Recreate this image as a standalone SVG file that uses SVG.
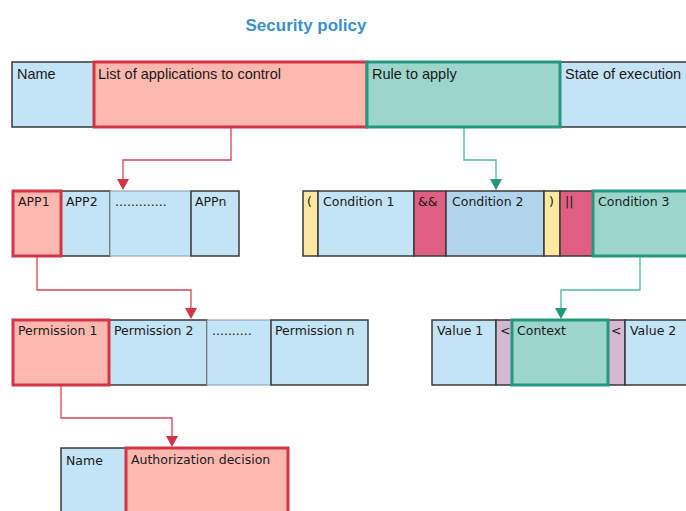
<svg xmlns="http://www.w3.org/2000/svg" width="686" height="511" viewBox="0 0 686 511">
<style>
text{font-family:"DejaVu Sans","Liberation Sans",sans-serif;font-size:12.5px;fill:#1a1a1a}
.t{font-family:"Liberation Sans",Arial,sans-serif;font-size:14.5px}
.title{font-family:"Liberation Sans",Arial,sans-serif;font-size:17px;font-weight:bold;fill:#3a8fcc}
.blue{fill:#c3e3f6;stroke:#3a3a3a;stroke-width:1.5}
.blue2{fill:#b2d5ee;stroke:#3a3a3a;stroke-width:1.5}
.dots{fill:#c3e3f6;stroke:#8a9aa6;stroke-width:1}
.red{fill:#fcb8ae;stroke:#d43447;stroke-width:3}
.teal{fill:#9cd6cb;stroke:#22997c;stroke-width:3}
.pink{fill:#df5f80;stroke:#3a3a3a;stroke-width:1.5}
.yel{fill:#fde8a2;stroke:#3a3a3a;stroke-width:1.5}
.mauve{fill:#d4b9d1;stroke:#3a3a3a;stroke-width:1.5}
.cr{fill:none;stroke:#d84555;stroke-width:1.3}
.ct{fill:none;stroke:#4cb89e;stroke-width:1.3}
.ahr{fill:#d43447}
.aht{fill:#22997c}
</style>
<text class="title" x="306" y="31" text-anchor="middle">Security policy</text>
<g id="connectors">
<path class="cr" d="M231,128 V160 H123 V180"/><path class="ahr" d="M117,179 H129 L123,190 Z"/>
<path class="ct" d="M464,128 V160 H496 V180"/><path class="aht" d="M490,179 H502 L496,190 Z"/>
<path class="cr" d="M37,257 V290 H191 V309"/><path class="ahr" d="M185,308 H197 L191,319 Z"/>
<path class="ct" d="M640,257 V290 H561 V309"/><path class="aht" d="M555,308 H567 L561,319 Z"/>
<path class="cr" d="M61,386 V418 H172 V437"/><path class="ahr" d="M166,436 H178 L172,447 Z"/>
</g>
<g id="policy-name"><rect class="blue" x="12" y="62" width="82" height="65"/><text class="t" x="17" y="79">Name</text></g>
<g id="policy-state"><rect class="blue" x="560" y="62" width="130" height="65"/><text class="t" x="565" y="79">State of execution</text></g>
<g id="policy-list"><rect class="red" x="94" y="62" width="273" height="65"/><text class="t" x="98" y="79">List of applications to control</text></g>
<g id="policy-rule"><rect class="teal" x="367" y="62" width="193" height="65"/><text class="t" x="372" y="79">Rule to apply</text></g>

<g id="app2"><rect class="blue" x="61" y="191" width="49" height="65"/><text x="66" y="206">APP2</text></g>
<g id="app-dots"><rect class="dots" x="110" y="191" width="81" height="65"/><text x="115" y="206">.............</text></g>
<g id="appn"><rect class="blue" x="191" y="191" width="48" height="65"/><text x="195" y="206">APPn</text></g>
<g id="app1"><rect class="red" x="13" y="191" width="48" height="65"/><text x="18" y="206">APP1</text></g>

<g id="paren-open"><rect class="yel" x="303" y="191" width="15" height="65"/><text x="307" y="206">(</text></g>
<g id="cond1"><rect class="blue" x="318" y="191" width="96" height="65"/><text x="323" y="206">Condition 1</text></g>
<g id="and"><rect class="pink" x="414" y="191" width="32" height="65"/><text x="418" y="206">&amp;&amp;</text></g>
<g id="cond2"><rect class="blue2" x="446" y="191" width="98" height="65"/><text x="452" y="206">Condition 2</text></g>
<g id="paren-close"><rect class="yel" x="544" y="191" width="16" height="65"/><text x="549" y="206">)</text></g>
<g id="or"><rect class="pink" x="560" y="191" width="33" height="65"/><text x="565" y="206" fill="#6a1030">||</text></g>
<g id="cond3"><rect class="teal" x="593" y="191" width="98" height="65"/><text x="598" y="206">Condition 3</text></g>

<g id="perm2"><rect class="blue" x="109" y="320" width="98" height="65"/><text x="114" y="335">Permission 2</text></g>
<g id="perm-dots"><rect class="dots" x="207" y="320" width="64" height="65"/><text x="212" y="335">..........</text></g>
<g id="permn"><rect class="blue" x="271" y="320" width="97" height="65"/><text x="275" y="335">Permission n</text></g>
<g id="perm1"><rect class="red" x="13" y="320" width="96" height="65"/><text x="18" y="335">Permission 1</text></g>

<g id="value1"><rect class="blue" x="432" y="320" width="64" height="65"/><text x="437" y="335">Value 1</text></g>
<g id="lt1"><rect class="mauve" x="496" y="320" width="16" height="65"/><text x="500" y="335">&lt;</text></g>
<g id="lt2"><rect class="mauve" x="608" y="320" width="17" height="65"/><text x="611" y="335">&lt;</text></g>
<g id="value2"><rect class="blue" x="625" y="320" width="65" height="65"/><text x="630" y="335">Value 2</text></g>
<g id="context"><rect class="teal" x="512" y="320" width="96" height="65"/><text x="517" y="335">Context</text></g>

<g id="dec-name"><rect class="blue" x="61" y="448" width="65" height="70"/><text x="66" y="465">Name</text></g>
<g id="dec-auth"><rect class="red" x="126" y="448" width="162" height="70"/><text x="131" y="464">Authorization decision</text></g>
</svg>
